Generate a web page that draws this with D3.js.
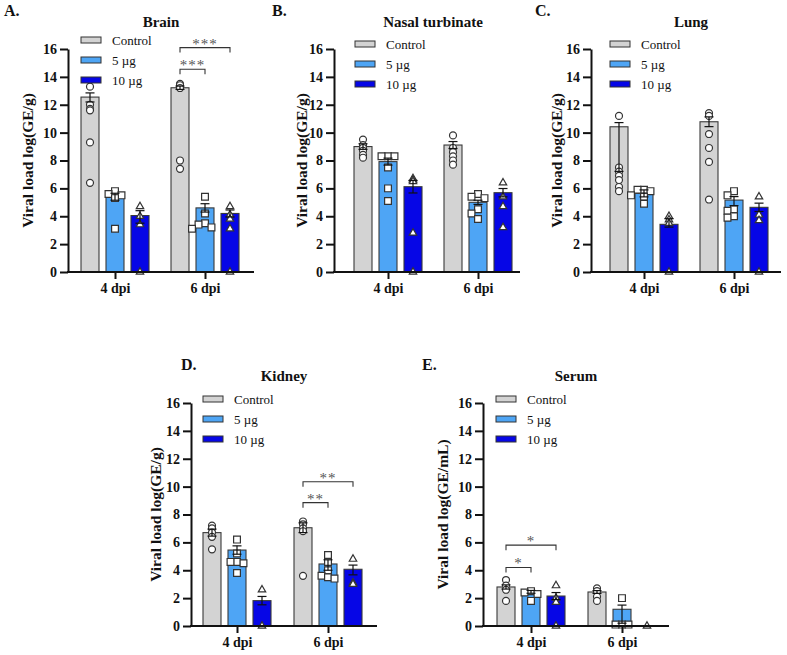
<!DOCTYPE html>
<html><head><meta charset="utf-8">
<script src="https://cdn.jsdelivr.net/npm/d3@7"></script>
<style>
body{margin:0;background:#fff}
svg{display:block}
text{font-family:"Liberation Serif","Times New Roman",serif;fill:#111}
</style>
</head><body><svg id="c" width="787" height="655"></svg>
<script>
// ---------------- data ----------------
const groups = ["4 dpi", "6 dpi"];
const seriesNames = ["Control", "5 µg", "10 µg"];
const yTicks = [0, 2, 4, 6, 8, 10, 12, 14, 16];

// Brain
const brainMean = [[12.55, 5.4, 4.05], [13.22, 4.6, 4.2]];
const brainErrUp = [[0.3, 0.25, 0.35], [0.12, 0.3, 0.25]];
const brainErrDown = [[0.35, 0.25, 0.55], [0.12, 0.3, 0.25]];
const brainPoints = [
  [[13.3, 12.0, 11.7, 11.6, 9.3, 6.4], [5.8, 5.6, 5.5, 5.3, 3.1], [4.7, 4.0, 3.4, 0]],
  [[13.5, 13.4, 13.2, 8.0, 7.4], [5.4, 4.2, 3.5, 3.4, 3.2, 3.1], [4.7, 4.1, 3.8, 3.1, 0]]
];
const brainSig = [
  {group: 1, from: 0, to: 2, y: 16.1, label: "***"},
  {group: 1, from: 0, to: 1, y: 14.55, label: "***"}
];

// Nasal turbinate
const nasalMean = [[9.0, 7.92, 6.12], [9.11, 5.0, 5.69]];
const nasalErrUp = [[0.2, 0.25, 0.45], [0.25, 0.15, 0.3]];
const nasalErrDown = [[0.2, 0.25, 0.45], [0.25, 0.15, 0.3]];
const nasalPoints = [
  [[9.5, 9.1, 8.9, 8.7, 8.4, 8.2], [8.3, 8.3, 8.3, 7.5, 6.0, 5.1], [6.7, 6.6, 6.5, 2.8, 0]],
  [[9.8, 8.9, 8.6, 8.3, 8.0, 7.7], [5.6, 5.4, 5.3, 4.5, 4.2, 3.8], [6.4, 5.4, 4.7, 3.2]]
];
const nasalSig = [];

// Lung
const lungMean = [[10.42, 5.64, 3.42], [10.78, 5.16, 4.64]];
const lungErrUp = [[0.3, 0.25, 0.4], [0.35, 0.25, 0.3]];
const lungErrDown = [[3.2, 0.25, 0.2], [0.35, 0.4, 0.3]];
const lungPoints = [
  [[11.2, 7.5, 7.2, 6.9, 6.6, 6.1, 5.8], [5.9, 5.9, 5.8, 5.5, 5.4, 4.9], [4.0, 3.75, 3.5, 0]],
  [[11.4, 11.2, 9.9, 8.9, 7.9, 5.2], [5.8, 5.5, 4.5, 4.4, 4.0, 3.9], [5.4, 4.1, 3.7, 0]]
];
const lungSig = [];

// Kidney
const kidneyMean = [[6.7, 5.45, 1.82], [7.05, 4.45, 4.07]];
const kidneyErrUp = [[0.25, 0.3, 0.3], [0.35, 0.3, 0.3]];
const kidneyErrDown = [[0.25, 0.3, 0.3], [0.35, 0.45, 0.4]];
const kidneyPoints = [
  [[7.2, 7.0, 6.7, 6.4, 5.5], [6.2, 5.2, 4.6, 4.6, 4.5, 3.8], [2.6, 0]],
  [[7.5, 7.3, 7.0, 6.8, 3.6], [5.1, 4.6, 4.0, 3.6, 3.5, 3.4], [4.8, 3.1, 3.0]]
];
const kidneySig = [
  {group: 1, from: 0, to: 2, y: 10.35, label: "**"},
  {group: 1, from: 0, to: 1, y: 8.85, label: "**"}
];

// Serum
const serumMean = [[2.8, 2.45, 2.15], [2.44, 1.2, 0]];
const serumErrUp = [[0.15, 0.1, 0.25], [0.1, 0.3, 0]];
const serumErrDown = [[0.15, 0.1, 0.25], [0.1, 1.0, 0]];
const serumPoints = [
  [[3.3, 2.9, 2.6, 1.8], [2.5, 2.4, 2.3, 1.8], [2.9, 2.0, 1.7, 0]],
  [[2.7, 2.5, 2.1, 1.8], [2.0, 0.1, 0.1, 0.1], [0]]
];
const serumSig = [
  {group: 0, from: 0, to: 2, y: 5.8, label: "*"},
  {group: 0, from: 0, to: 1, y: 4.2, label: "*"}
];

// ---------------- styles / layout ----------------
const fills = ["#d3d3d3", "#4ea5f5", "#0606e6"];
const symbols = [d3.symbolCircle, d3.symbolSquare, d3.symbolTriangle];
const symSize = [38, 46, 24];
const spread = [false, true, false];

const panels = [
  {letter: "A.", title: "Brain", ylabel: "Viral load log(GE/g)", mean: brainMean, up: brainErrUp, down: brainErrDown, pts: brainPoints, sig: brainSig,
   L: {ax: 68, right: 254, top: 49, bottom: 272, c: [115, 205], titleX: 161, titleY: 27, letterX: 4, letterY: 16, legX: 81, legY: 40, ylabX: 28}},
  {letter: "B.", title: "Nasal turbinate", ylabel: "Viral load log(GE/g)", mean: nasalMean, up: nasalErrUp, down: nasalErrDown, pts: nasalPoints, sig: nasalSig,
   L: {ax: 334, right: 520, top: 49, bottom: 272, c: [388, 478], titleX: 433, titleY: 27, letterX: 272, letterY: 16, legX: 355, legY: 44, ylabX: 302}},
  {letter: "C.", title: "Lung", ylabel: "Viral load log(GE/g)", mean: lungMean, up: lungErrUp, down: lungErrDown, pts: lungPoints, sig: lungSig,
   L: {ax: 591, right: 781, top: 49, bottom: 272, c: [644, 734], titleX: 691, titleY: 27, letterX: 535, letterY: 16, legX: 610, legY: 44, ylabX: 557}},
  {letter: "D.", title: "Kidney", ylabel: "Viral load log(GE/g)", mean: kidneyMean, up: kidneyErrUp, down: kidneyErrDown, pts: kidneyPoints, sig: kidneySig,
   L: {ax: 191, right: 377, top: 403, bottom: 626, c: [237, 328], titleX: 284, titleY: 381, letterX: 181, letterY: 370, legX: 203, legY: 399, ylabX: 156}},
  {letter: "E.", title: "Serum", ylabel: "Viral load log(GE/mL)", mean: serumMean, up: serumErrUp, down: serumErrDown, pts: serumPoints, sig: serumSig,
   L: {ax: 483, right: 669, top: 403, bottom: 626, c: [531, 622], titleX: 576, titleY: 381, letterX: 422, letterY: 370, legX: 496, legY: 399, ylabX: 443}}
];

const svg = d3.select("#c");

panels.forEach(p => {
  const L = p.L;
  const g = svg.append("g");
  const y = d3.scaleLinear().domain([0, 16]).range([L.bottom, L.top]);
  const x = d3.scalePoint().domain(groups).range(L.c);
  const xs = d3.scaleBand().domain(seriesNames).range([-34, 34]).paddingInner(0.28).paddingOuter(0);
  const bw = xs.bandwidth();

  // bars
  groups.forEach((gName, gi) => {
    seriesNames.forEach((s, si) => {
      const v = p.mean[gi][si];
      if (v > 0) {
        g.append("rect")
          .attr("x", x(gName) + xs(s))
          .attr("y", y(v))
          .attr("width", bw)
          .attr("height", y(0) - y(v))
          .attr("fill", fills[si])
          .attr("stroke", "#3a3a3a")
          .attr("stroke-width", 1.1);
      }
    });
  });

  // points
  groups.forEach((gName, gi) => {
    seriesNames.forEach((s, si) => {
      const cx = x(gName) + xs(s) + bw / 2;
      const vals = p.pts[gi][si].slice().sort((a, b) => b - a);
      const placed = [];
      const colW = 6.5;
      vals.forEach(v => {
        const py = y(v);
        let off = 0;
        if (spread[si]) {
          const cands = [0, -1, 1, -2, 2];
          for (const c of cands) {
            const clash = placed.some(q => q.c === c && Math.abs(q.py - py) < 6.5);
            if (!clash) { off = c; break; }
          }
        }
        placed.push({c: off, py});
        g.append("path")
          .attr("d", d3.symbol().type(symbols[si]).size(symSize[si])())
          .attr("transform", `translate(${cx + off * colW},${py})`)
          .attr("fill", "#fff")
          .attr("stroke", "#333")
          .attr("stroke-width", 1.2);
      });
    });
  });

  // error bars
  groups.forEach((gName, gi) => {
    seriesNames.forEach((s, si) => {
      const v = p.mean[gi][si];
      const hi = v + p.up[gi][si], lo = Math.max(0, v - p.down[gi][si]);
      if (hi === lo) return;
      const cx = x(gName) + xs(s) + bw / 2;
      const eg = g.append("g").attr("stroke", "#111").attr("stroke-width", 1.2);
      eg.append("line").attr("x1", cx).attr("x2", cx).attr("y1", y(hi)).attr("y2", y(lo));
      [hi, lo].forEach(e => eg.append("line").attr("x1", cx - 4.5).attr("x2", cx + 4.5).attr("y1", y(e)).attr("y2", y(e)));
    });
  });

  // y axis
  const ya = g.append("g").attr("transform", `translate(${L.ax},0)`)
    .call(d3.axisLeft(y).tickValues(yTicks).tickSize(8).tickPadding(3).tickSizeOuter(0));
  ya.select(".domain").attr("stroke", "#111").attr("stroke-width", 2);
  ya.selectAll(".tick line").attr("stroke", "#111").attr("stroke-width", 2);
  ya.selectAll(".tick text").attr("font-size", 14).attr("font-weight", "bold")
    .attr("font-family", "'Liberation Serif','Times New Roman',serif").attr("fill", "#111");

  // x axis
  const xa = g.append("g").attr("transform", `translate(0,${L.bottom})`)
    .call(d3.axisBottom(x).tickSize(7).tickPadding(4).tickSizeOuter(0));
  xa.select(".domain").remove();
  xa.selectAll(".tick line").attr("stroke", "#111").attr("stroke-width", 2);
  xa.selectAll(".tick text").attr("font-size", 14).attr("font-weight", "bold")
    .attr("font-family", "'Liberation Serif','Times New Roman',serif").attr("fill", "#111");
  g.append("line").attr("x1", L.ax - 1).attr("x2", L.right).attr("y1", L.bottom).attr("y2", L.bottom)
    .attr("stroke", "#111").attr("stroke-width", 2);

  // significance brackets
  p.sig.forEach(sg => {
    const gName = groups[sg.group];
    const x1 = x(gName) + xs(seriesNames[sg.from]) + bw / 2;
    const x2 = x(gName) + xs(seriesNames[sg.to]) + bw / 2;
    const yy = y(sg.y);
    g.append("path")
      .attr("d", `M${x1},${yy + 5}V${yy}H${x2}V${yy + 5}`)
      .attr("fill", "none").attr("stroke", "#333").attr("stroke-width", 1.1);
    g.append("text").attr("x", (x1 + x2) / 2).attr("y", yy + 1)
      .attr("text-anchor", "middle").attr("font-size", 15).attr("letter-spacing", 1)
      .style("fill", "#555").text(sg.label);
  });

  // legend
  seriesNames.forEach((s, si) => {
    const ly = L.legY + si * 20;
    g.append("rect").attr("x", L.legX).attr("y", ly - 3).attr("width", 20).attr("height", 6)
      .attr("fill", fills[si]).attr("stroke", "#333").attr("stroke-width", 1);
    g.append("text").attr("x", L.legX + 31).attr("y", ly).attr("dy", "0.35em")
      .attr("font-size", 13).text(s);
  });

  // title, letter, y label
  g.append("text").attr("x", L.titleX).attr("y", L.titleY).attr("text-anchor", "middle")
    .attr("font-size", 15).attr("font-weight", "bold").text(p.title);
  g.append("text").attr("x", L.letterX).attr("y", L.letterY)
    .attr("font-size", 16).attr("font-weight", "bold").text(p.letter);
  g.append("text")
    .attr("transform", `translate(${L.ylabX},${(L.top + L.bottom) / 2}) rotate(-90)`)
    .attr("text-anchor", "middle").attr("dy", "0.35em")
    .attr("font-size", 15.5).attr("font-weight", "bold").text(p.ylabel);
});
</script>
</body></html>
